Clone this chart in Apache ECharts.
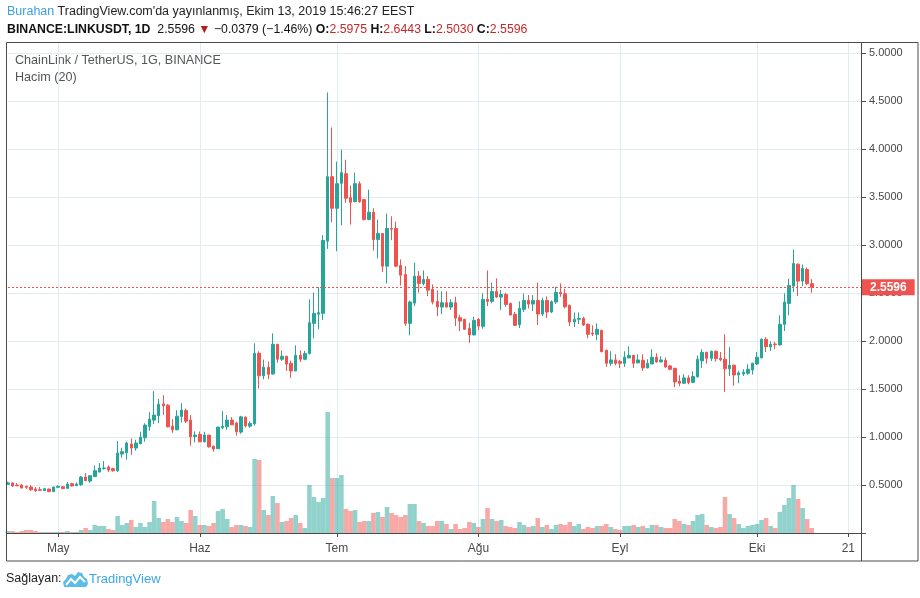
<!DOCTYPE html>
<html lang="tr">
<head>
<meta charset="UTF-8">
<title>ChainLink / TetherUS, 1G, BINANCE</title>
<script src="https://cdn.jsdelivr.net/npm/echarts@6.0.0/dist/echarts.min.js"></script>
<style>
  * { margin: 0; padding: 0; box-sizing: border-box; }
  html, body { width: 920px; height: 598px; background: #fff; overflow: hidden; }
  #chart { width: 920px; height: 598px; }
</style>
</head>
<body>
<div id="chart"></div>
<script>
// LINKUSDT günlük mumlar, 2019-04-20 .. 2019-10-13 (grafikten okunan yaklaşık değerler)
var open = [
  0.507, 0.522, 0.499, 0.500, 0.486, 0.479, 0.458, 0.451, 0.441, 0.458,
  0.431, 0.476, 0.482, 0.465, 0.514, 0.493, 0.503, 0.583, 0.541, 0.587,
  0.635, 0.670, 0.687, 0.670, 0.649, 0.823, 0.836, 0.926, 0.885, 0.930,
  0.992, 1.110, 1.176, 1.221, 1.345, 1.332, 1.113, 1.075, 1.214, 1.276,
  1.176, 1.005, 1.027, 0.950, 1.020, 0.905, 0.878, 1.096, 1.106, 1.176,
  1.145, 1.051, 1.207, 1.113, 1.138, 1.872, 1.637, 1.727, 1.657, 1.966,
  1.810, 1.841, 1.768, 1.688, 1.851, 1.810, 1.869, 2.184, 2.280, 2.288,
  3.040, 3.712, 3.383, 3.643, 3.743, 3.494, 3.452, 3.639, 3.473, 3.265,
  3.341, 3.057, 3.120, 2.780, 3.172, 3.172, 2.787, 2.693, 2.184, 2.395,
  2.676, 2.600, 2.641, 2.537, 2.413, 2.354, 2.399, 2.354, 2.399, 2.243,
  2.226, 2.132, 2.063, 2.226, 2.153, 2.434, 2.413, 2.517, 2.458, 2.485,
  2.392, 2.278, 2.170, 2.330, 2.423, 2.385, 2.423, 2.281, 2.423, 2.302,
  2.406, 2.506, 2.492, 2.371, 2.198, 2.226, 2.236, 2.174, 2.083, 2.070,
  2.111, 1.903, 1.768, 1.803, 1.786, 1.768, 1.824, 1.851, 1.772, 1.799,
  1.720, 1.761, 1.831, 1.782, 1.799, 1.741, 1.716, 1.581, 1.560, 1.616,
  1.570, 1.627, 1.793, 1.883, 1.820, 1.893, 1.820, 1.810, 1.710, 1.748,
  1.647, 1.657, 1.664, 1.699, 1.761, 1.824, 2.018, 1.938, 1.969, 1.959,
  2.174, 2.392, 2.572, 2.801, 2.624, 2.745, 2.5975
];
var high = [
  0.535, 0.525, 0.521, 0.510, 0.493, 0.497, 0.479, 0.479, 0.472, 0.462,
  0.480, 0.497, 0.486, 0.531, 0.524, 0.528, 0.594, 0.625, 0.604, 0.704,
  0.729, 0.750, 0.704, 0.680, 0.957, 0.888, 0.950, 0.985, 0.971, 1.054,
  1.144, 1.259, 1.477, 1.397, 1.436, 1.342, 1.186, 1.280, 1.352, 1.297,
  1.228, 1.058, 1.058, 1.054, 1.020, 0.910, 1.106, 1.269, 1.228, 1.207,
  1.160, 1.221, 1.214, 1.162, 1.976, 1.893, 1.806, 1.786, 2.080, 1.970,
  1.903, 1.845, 1.796, 1.955, 1.903, 1.896, 2.434, 2.506, 2.562, 3.102,
  4.589, 4.225, 3.868, 3.993, 3.889, 3.618, 3.754, 3.663, 3.480, 3.577,
  3.383, 3.265, 3.120, 3.327, 3.300, 3.244, 2.850, 2.780, 2.420, 2.815,
  2.728, 2.735, 2.676, 2.589, 2.527, 2.517, 2.517, 2.434, 2.461, 2.274,
  2.230, 2.191, 2.253, 2.239, 2.496, 2.735, 2.610, 2.652, 2.531, 2.503,
  2.400, 2.302, 2.413, 2.496, 2.479, 2.479, 2.610, 2.451, 2.465, 2.423,
  2.565, 2.600, 2.544, 2.380, 2.298, 2.298, 2.253, 2.184, 2.163, 2.184,
  2.118, 1.910, 1.893, 1.862, 1.803, 1.893, 1.945, 1.855, 1.862, 1.862,
  1.810, 1.914, 1.872, 1.841, 1.827, 1.748, 1.720, 1.643, 1.654, 1.643,
  1.685, 1.851, 1.914, 1.886, 1.900, 1.900, 1.886, 2.070, 1.936, 1.755,
  1.690, 1.706, 1.758, 1.775, 1.886, 2.028, 2.039, 1.997, 1.990, 2.267,
  2.496, 2.648, 2.953, 2.808, 2.797, 2.766, 2.6443
];
var low = [
  0.500, 0.479, 0.488, 0.465, 0.458, 0.437, 0.427, 0.441, 0.438, 0.428,
  0.428, 0.472, 0.458, 0.462, 0.483, 0.490, 0.490, 0.540, 0.524, 0.585,
  0.633, 0.660, 0.635, 0.639, 0.635, 0.784, 0.763, 0.815, 0.857, 0.925,
  0.950, 1.065, 1.134, 1.144, 1.228, 1.100, 1.044, 1.070, 1.151, 1.145,
  0.909, 0.944, 0.947, 0.944, 0.888, 0.847, 0.875, 1.082, 1.075, 1.124,
  1.013, 1.034, 1.099, 1.096, 1.120, 1.505, 1.602, 1.602, 1.650, 1.775,
  1.792, 1.688, 1.616, 1.685, 1.782, 1.800, 1.860, 2.028, 2.122, 2.220,
  2.960, 3.237, 2.936, 3.206, 3.438, 3.213, 3.445, 3.440, 3.258, 3.258,
  2.943, 2.860, 2.718, 2.600, 3.050, 2.770, 2.579, 2.156, 2.059, 2.364,
  2.503, 2.579, 2.468, 2.381, 2.260, 2.281, 2.350, 2.323, 2.156, 2.104,
  2.115, 1.980, 2.060, 2.115, 2.128, 2.364, 2.392, 2.450, 2.323, 2.357,
  2.267, 2.156, 2.135, 2.302, 2.340, 2.312, 2.167, 2.260, 2.239, 2.290,
  2.385, 2.461, 2.340, 2.156, 2.146, 2.177, 2.156, 2.028, 2.052, 2.007,
  1.882, 1.730, 1.741, 1.747, 1.720, 1.730, 1.820, 1.720, 1.768, 1.689,
  1.715, 1.760, 1.775, 1.780, 1.720, 1.695, 1.519, 1.529, 1.555, 1.550,
  1.560, 1.620, 1.720, 1.765, 1.793, 1.786, 1.790, 1.470, 1.636, 1.533,
  1.560, 1.636, 1.647, 1.650, 1.750, 1.820, 1.886, 1.896, 1.914, 1.955,
  2.104, 2.267, 2.510, 2.468, 2.572, 2.582, 2.5030
];
var close = [
  0.522, 0.490, 0.492, 0.469, 0.476, 0.451, 0.441, 0.445, 0.462, 0.431,
  0.479, 0.486, 0.462, 0.510, 0.490, 0.510, 0.583, 0.545, 0.597, 0.649,
  0.677, 0.677, 0.656, 0.649, 0.833, 0.847, 0.937, 0.885, 0.937, 0.999,
  1.124, 1.186, 1.228, 1.342, 1.325, 1.106, 1.075, 1.217, 1.280, 1.165,
  1.002, 1.020, 0.950, 1.020, 0.898, 0.874, 1.103, 1.113, 1.176, 1.127,
  1.054, 1.210, 1.117, 1.141, 1.872, 1.637, 1.727, 1.654, 1.966, 1.810,
  1.841, 1.761, 1.688, 1.851, 1.810, 1.869, 2.191, 2.288, 2.295, 3.047,
  3.712, 3.383, 3.639, 3.754, 3.487, 3.445, 3.639, 3.452, 3.265, 3.341,
  3.057, 3.120, 2.780, 3.172, 3.165, 2.780, 2.686, 2.184, 2.406, 2.676,
  2.600, 2.641, 2.530, 2.406, 2.354, 2.399, 2.354, 2.399, 2.239, 2.208,
  2.122, 2.063, 2.215, 2.156, 2.434, 2.413, 2.517, 2.458, 2.485, 2.381,
  2.271, 2.163, 2.340, 2.423, 2.385, 2.423, 2.281, 2.423, 2.302, 2.409,
  2.506, 2.492, 2.357, 2.198, 2.226, 2.236, 2.167, 2.070, 2.073, 2.122,
  1.889, 1.768, 1.803, 1.768, 1.768, 1.831, 1.851, 1.768, 1.803, 1.720,
  1.768, 1.831, 1.782, 1.803, 1.730, 1.706, 1.574, 1.560, 1.616, 1.567,
  1.630, 1.810, 1.883, 1.820, 1.893, 1.817, 1.805, 1.710, 1.748, 1.647,
  1.668, 1.675, 1.706, 1.768, 1.831, 2.018, 1.941, 1.966, 1.962, 2.174,
  2.406, 2.579, 2.808, 2.624, 2.756, 2.5975, 2.5596
];
// hacim (milyon, yaklaşık)
var volume = [
  0.2, 0.2, 0.1, 0.2, 0.3, 0.3, 0.2, 0.1, 0.1, 0.1,
  0.1, 0.1, 0.1, 0.2, 0.1, 0.1, 0.3, 0.5, 0.3, 0.8,
  0.7, 0.7, 0.4, 0.3, 1.7, 0.8, 1.0, 1.3, 0.6, 1.0,
  0.6, 1.1, 3.2, 1.5, 1.1, 1.4, 1.1, 1.6, 1.2, 1.0,
  2.3, 1.7, 0.8, 0.8, 0.7, 1.0, 2.2, 2.4, 1.4, 0.6,
  0.8, 0.8, 0.7, 0.6, 7.4, 7.3, 2.3, 1.8, 3.7, 3.0,
  1.1, 1.2, 1.5, 1.8, 1.0, 0.5, 4.8, 3.6, 3.1, 3.5,
  12.1, 5.5, 5.5, 5.8, 2.4, 2.2, 2.3, 1.1, 1.2, 1.2,
  2.0, 2.1, 1.6, 2.6, 2.0, 1.8, 1.6, 1.8, 2.9, 2.9,
  1.2, 1.0, 0.7, 0.7, 1.2, 1.2, 0.9, 0.4, 0.9, 0.4,
  0.5, 1.1, 1.0, 0.6, 1.4, 2.5, 1.4, 1.2, 1.3, 0.7,
  0.6, 0.5, 1.1, 0.8, 0.6, 0.7, 1.5, 0.6, 0.8, 0.4,
  0.8, 0.9, 0.8, 1.1, 0.7, 0.9, 0.4, 0.6, 0.5, 0.7,
  0.7, 0.9, 0.6, 0.4, 0.3, 0.7, 0.7, 0.8, 0.6, 0.7,
  0.5, 0.8, 0.8, 0.6, 0.5, 0.5, 1.4, 1.2, 0.9, 0.8,
  1.2, 1.8, 1.9, 0.8, 0.6, 0.5, 0.6, 3.6, 1.9, 1.5,
  0.9, 0.5, 0.7, 0.8, 0.9, 1.3, 1.5, 0.7, 0.5, 2.1,
  2.8, 3.5, 4.8, 3.4, 2.5, 1.4, 0.5
];
// zaman ekseni etiketleri
var tickLabels = {
  '2019-05-01': 'May', '2019-06-01': 'Haz', '2019-07-01': 'Tem',
  '2019-08-01': 'Ağu', '2019-09-01': 'Eyl', '2019-10-01': 'Eki', '2019-10-21': '21'
};
var lastPrice = 2.5596;

// kategori ekseni: ilk mumdan 11 gün sonrasına kadar
var dates = [];
var t0 = Date.UTC(2019, 3, 20);
for (var i = 0; i < open.length + 11; i++) {
  dates.push(new Date(t0 + i * 86400000).toISOString().slice(0, 10));
}

var UP = '#26a69a', DOWN = '#ef5350';
var candles = [], vols = [];
for (var j = 0; j < open.length; j++) {
  candles.push([open[j], close[j], low[j], high[j]]);
  vols.push({
    value: volume[j],
    itemStyle: { color: close[j] >= open[j] ? 'rgba(38,166,154,0.5)' : 'rgba(239,83,80,0.5)' }
  });
}

var FONT = 'Liberation Sans';
var GRID = '#e1ebf2';
var AXIS = '#4a4a4a';
function isTick(idx, val) { return !!tickLabels[val]; }

var chartDom = document.getElementById('chart');
var myChart = echarts.init(chartDom);

var option = {
  animation: false,
  backgroundColor: '#fff',
  grid: { left: 8, top: 42, width: 854, bottom: 65, containLabel: false },
  xAxis: [{
    type: 'category',
    data: dates,
    boundaryGap: false,
    axisLine: { show: false },
    axisTick: { show: true, length: 4, interval: isTick, lineStyle: { color: AXIS } },
    axisLabel: {
      interval: isTick, margin: 10, color: AXIS, fontSize: 12, fontFamily: FONT,
      formatter: function (v) { return tickLabels[v] || ''; }
    },
    splitLine: { show: true, interval: isTick, lineStyle: { color: GRID } }
  }],
  yAxis: [{
    type: 'value',
    position: 'right',
    min: 0, max: 5.115, interval: 0.5,
    axisLine: { show: false },
    axisTick: { show: true, length: 4, lineStyle: { color: AXIS } },
    axisLabel: {
      margin: 7, color: AXIS, fontSize: 11, fontFamily: FONT,
      formatter: function (v) {
        return (v > 0.01 && Math.abs(v * 2 - Math.round(v * 2)) < 1e-6) ? v.toFixed(4) : '';
      }
    },
    splitLine: { show: true, lineStyle: { color: GRID } }
  }, {
    type: 'value', min: 0, max: 49.1, show: false, splitLine: { show: false }
  }],
  series: [{
    name: 'Hacim',
    type: 'bar',
    yAxisIndex: 1,
    data: vols,
    barCategoryGap: '0%',
    z: 1
  }, {
    name: 'LINKUSDT',
    type: 'candlestick',
    data: candles,
    barWidth: 3,
    clip: true,
    z: 3,
    itemStyle: { color: UP, color0: DOWN, borderColor: UP, borderColor0: DOWN, borderWidth: 1 },
    markLine: {
      symbol: ['none', 'none'],
      silent: true,
      data: [{ yAxis: lastPrice }],
      lineStyle: { color: DOWN, type: [2, 2], width: 1 },
      label: {
        show: true, position: 'end', distance: 0,
        formatter: lastPrice.toFixed(4),
        color: '#fff', backgroundColor: DOWN, fontWeight: 'bold',
        fontSize: 12, fontFamily: FONT, padding: [2, 8, 2, 8]
      }
    }
  }],
  graphic: [
    // başlık satırları
    {
      type: 'text', x: 7, y: 12,
      style: {
        text: '{u|Burahan} {t|TradingView.com\'da yayınlanmış, Ekim 13, 2019 15:46:27 EEST}',
        verticalAlign: 'middle',
        rich: {
          u: { fill: '#3d9fe0', fontSize: 12.5, fontFamily: FONT },
          t: { fill: '#222', fontSize: 12.5, fontFamily: FONT }
        }
      }
    },
    {
      type: 'text', x: 7, y: 30,
      style: {
        text: '{b|BINANCE:LINKUSDT, 1D}{n|  2.5596 }{d|▼}{n| −0.0379 (−1.46%) }{b|O:}{v|2.5975} {b|H:}{v|2.6443} {b|L:}{v|2.5030} {b|C:}{v|2.5596}',
        verticalAlign: 'middle',
        rich: {
          b: { fill: '#111', fontSize: 12.3, fontWeight: 'bold', fontFamily: FONT },
          n: { fill: '#111', fontSize: 12.3, fontFamily: FONT },
          d: { fill: '#b71c1c', fontSize: 12.3, fontFamily: FONT },
          v: { fill: '#c62828', fontSize: 12.3, fontFamily: FONT }
        }
      }
    },
    // panel yazıları
    {
      type: 'text', x: 15, y: 61,
      style: { text: 'ChainLink / TetherUS, 1G, BINANCE', fill: '#555', fontSize: 12.6, fontFamily: FONT, verticalAlign: 'middle' }
    },
    {
      type: 'text', x: 15, y: 78,
      style: { text: 'Hacim (20)', fill: '#555', fontSize: 12.6, fontFamily: FONT, verticalAlign: 'middle' }
    },
    // çerçeve
    {
      type: 'rect', z: 100, silent: true,
      shape: { x: 6.5, y: 42.5, width: 911.5, height: 518.5 },
      style: { fill: null, stroke: AXIS, lineWidth: 1 }
    },
    {
      type: 'line', z: 100, silent: true,
      shape: { x1: 861.5, y1: 42.5, x2: 861.5, y2: 561 },
      style: { stroke: AXIS, lineWidth: 1 }
    },
    {
      type: 'line', z: 100, silent: true,
      shape: { x1: 6.5, y1: 533.5, x2: 861.5, y2: 533.5 },
      style: { stroke: AXIS, lineWidth: 1 }
    },
    // alt bilgi
    {
      type: 'text', x: 6, y: 579,
      style: { text: 'Sağlayan:', fill: '#222', fontSize: 12.5, fontFamily: FONT, verticalAlign: 'middle' }
    },
    {
      type: 'polygon', x: 63, y: 570,
      shape: { points: [[1, 17], [0, 12], [3, 9], [5, 5], [9, 4], [12, 6], [15, 2], [19, 3], [21, 7], [24, 9], [25, 14], [23, 17]] },
      style: { fill: '#5bbbe9' }
    },
    {
      type: 'polyline', x: 63, y: 570,
      shape: { points: [[3, 15], [8, 9], [12, 13], [17, 7], [22, 12]] },
      style: { stroke: '#fff', lineWidth: 2, fill: null }
    },
    {
      type: 'text', x: 89, y: 579,
      style: { text: 'TradingView', fill: '#3aa6e8', fontSize: 13, fontFamily: FONT, verticalAlign: 'middle' }
    }
  ]
};

myChart.setOption(option);

window.addEventListener('resize', function () {
  myChart.resize();
});
</script>
</body>
</html>
